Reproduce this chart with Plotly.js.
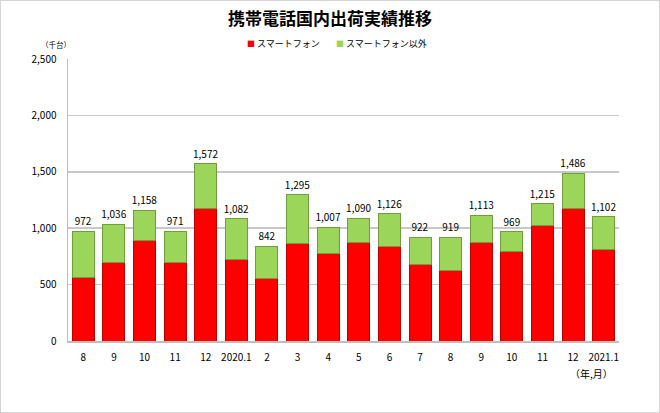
<!DOCTYPE html>
<html><head><meta charset="utf-8">
<script src="https://cdn.plot.ly/plotly-3.0.1.min.js"></script>
<style>
html,body{margin:0;padding:0;background:#fff;}
#wrap{position:relative;width:660px;height:413px;}
#chart{width:660px;height:413px;}
#frame{position:absolute;left:0;top:0;width:660px;height:413px;box-sizing:border-box;border:1px solid #d4d4d4;pointer-events:none;}
</style></head>
<body>
<div id="wrap"><div id="chart"></div><div id="frame"></div></div>
<script>
const categories = ["8","9","10","11","12","2020.1","2","3","4","5","6","7","8","9","10","11","12","2021.1"];
const totals = [972,1036,1158,971,1572,1082,842,1295,1007,1090,1126,922,919,1113,969,1215,1486,1102];
const smartphone = [561,700,895,694,1179,721,550,863,777,869,842,677,627,875,795,1020,1179,807];
const others = totals.map((t,i)=>t-smartphone[i]);
const yTicks = [0,500,1000,1500,2000,2500];
const seriesNames = ['スマートフォン','スマートフォン以外'];
const seriesColors = ['#ff0000','#9bd65a'];

const font = "'Noto Sans CJK JP', 'Noto Sans', sans-serif";
const idx = categories.map((_,i)=>i);

const traces = [
  {type:'bar', name:seriesNames[0], x:idx, y:smartphone,
   marker:{color:seriesColors[0], line:{color:'#c00000', width:1}}, hoverinfo:'skip'},
  {type:'bar', name:seriesNames[1], x:idx, y:others,
   marker:{color:seriesColors[1], line:{color:'#6f9e3a', width:1}},
   text: totals.map(v=>v.toLocaleString('en-US')), textposition:'outside', constraintext:'none',
   textfont:{family:font, size:10, color:'#000'}, cliponaxis:false, hoverinfo:'skip'}
];

const px = v => (v-68)/551;
const layout = {
  width:660, height:413,
  margin:{l:68, r:41, t:59, b:72},
  paper_bgcolor:'#fff', plot_bgcolor:'#fff',
  barmode:'stack', bargap:0.28,
  showlegend:false,
  title:{text:'<b>携帯電話国内出荷実績推移</b>', x:0.5, xanchor:'center', y:0.955, yanchor:'middle',
         font:{family:font, size:17, color:'#000'}},
  xaxis:{tickmode:'array', tickvals:idx, ticktext:categories, range:[-0.5,17.5],
         showgrid:false, zeroline:false, showline:true, linecolor:'#bfbfbf', linewidth:1.5,
         ticks:'', tickfont:{family:font, size:10, color:'#000'}, ticklabelstandoff:6},
  yaxis:{range:[0,2500], tickmode:'array', tickvals:yTicks, tickformat:',d',
         showgrid:true, gridcolor:'#c8c8c8', gridwidth:1.5, zeroline:false,
         showline:true, linecolor:'#bfbfbf', linewidth:1.5, ticks:'',
         tickfont:{family:font, size:10, color:'#000'}, ticklabelstandoff:8},
  annotations:[
    {text:'（千台）', xref:'paper', yref:'paper', x:px(56), y:1.0, yshift:15, xanchor:'center', yanchor:'middle',
     showarrow:false, font:{family:font, size:7.5, color:'#000'}},
    {text:'（年,月）', xref:'paper', yref:'paper', x:px(615), y:0, yshift:-23, xanchor:'right', yanchor:'top',
     showarrow:false, font:{family:font, size:10, color:'#000'}},
    {text:'<span style="color:'+seriesColors[0]+';font-size:8px">■</span> '+seriesNames[0], xref:'paper', yref:'paper',
     x:px(245), y:1, yshift:16, xanchor:'left', yanchor:'middle', showarrow:false,
     font:{family:font, size:9, color:'#000'}},
    {text:'<span style="color:'+seriesColors[1]+';font-size:8px">■</span> '+seriesNames[1], xref:'paper', yref:'paper',
     x:px(334), y:1, yshift:16, xanchor:'left', yanchor:'middle', showarrow:false,
     font:{family:font, size:9, color:'#000'}}
  ]
};
Plotly.newPlot('chart', traces, layout, {displayModeBar:false, staticPlot:true});
</script>
</body></html>
